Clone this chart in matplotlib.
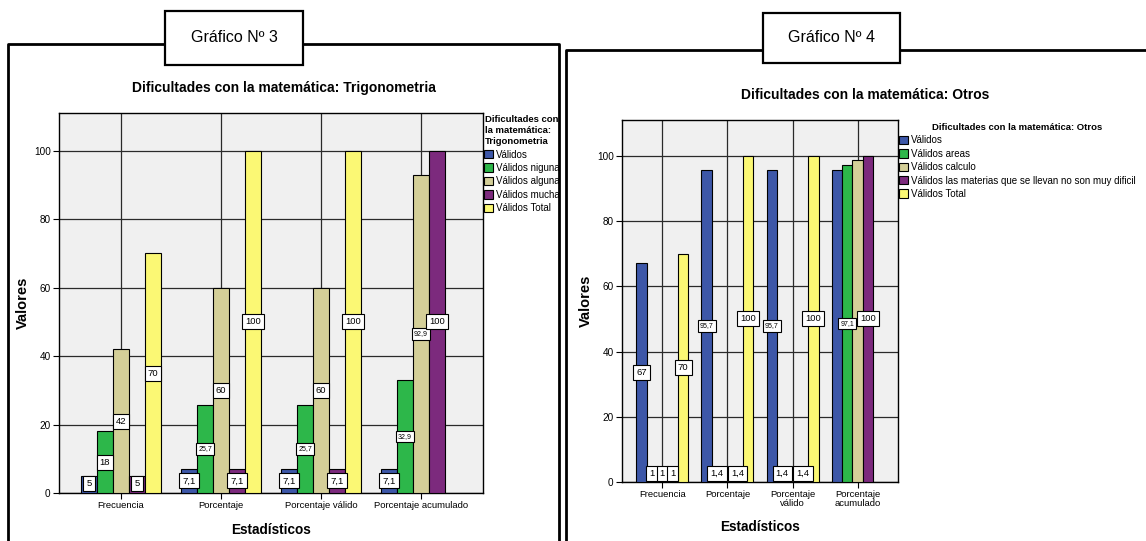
import numpy as np
import matplotlib
matplotlib.use("Agg")
import matplotlib.pyplot as plt
from matplotlib.patches import Rectangle
from matplotlib.lines import Line2D

# datos del grafico 3 (trigonometria)
estadisticos_3 = ['Frecuencia', 'Porcentaje', 'Porcentaje válido', 'Porcentaje acumulado']
series_3 = ['Válidos', 'Válidos niguna', 'Válidos alguna', 'Válidos mucha', 'Válidos Total']
validos_3 = [5, 7.1, 7.1, 7.1]
niguna_3 = [18, 25.7, 25.7, 32.9]
alguna_3 = [42, 60, 60, 92.9]
mucha_3 = [5, 7.1, 7.1, 100]
total_3 = [70, 100, 100, None]

# datos del grafico 4 (otros)
estadisticos_4 = ['Frecuencia', 'Porcentaje', 'Porcentaje\nválido', 'Porcentaje\nacumulado']
series_4 = ['Válidos', 'Válidos areas', 'Válidos calculo',
            'Válidos las materias que se llevan no son muy dificil', 'Válidos Total']
validos_4 = [67, 95.7, 95.7, 95.7]
areas_4 = [1, 1.4, 1.4, 97.1]
calculo_4 = [1, 1.4, 1.4, 98.6]
materias_4 = [1, 1.4, 1.4, 100]
total_4 = [70, 100, 100, None]
# etiquetas que SPSS no muestra por solaparse (serie, estadistico)
ocultas_4 = [(2, 1), (2, 2), (0, 3), (2, 3)]

colores = ['#3D57A8', '#2DB74A', '#D4CF98', '#7C2A7D', '#FBF874']
FUENTE = ['Liberation Sans', 'DejaVu Sans']

W, H = 1146, 541
fig = plt.figure(figsize=(W / 100, H / 100), dpi=100)
fig.patch.set_facecolor('white')


def rect(x0, y0, x1, y1):
    return [x0 / W, 1 - y1 / H, (x1 - x0) / W, (y1 - y0) / H]


def fy(y):
    return 1 - y / H


def fmt(v):
    return f"{v:g}".replace('.', ',')


def barras(ax, cats, nombres, valores, ocultas, pad_x, pad_y):
    x = np.arange(len(cats))
    ancho = 0.16
    for i, (serie, col) in enumerate(zip(valores, colores)):
        off = (i - 2) * ancho
        for j, v in enumerate(serie):
            if v is None:
                continue
            ax.bar(x[j] + off, v, ancho, color=col, edgecolor='black',
                   linewidth=0.8, zorder=3, label=nombres[i] if j == 0 else None)
            if (i, j) in ocultas:
                continue
            t = fmt(v)
            ax.text(x[j] + off, max(v / 2, 2.7), t, ha='center', va='center',
                    fontsize=5.0 if len(t) > 3 else 6.8, family=FUENTE, zorder=5,
                    bbox=dict(boxstyle='square,pad=0.32', fc='white', ec='black', lw=0.8))
    ax.set_xlim(-0.62, 3.62)
    ax.set_ylim(0, 111)
    ax.set_xticks(x)
    ax.set_xticklabels(cats, family=FUENTE, fontsize=6.8, linespacing=0.95)
    ax.set_yticks(range(0, 101, 20))
    ax.set_yticklabels([str(v) for v in range(0, 101, 20)], family=FUENTE, fontsize=7.2)
    ax.set_facecolor('#F0F0F0')
    ax.grid(True, color='#2a2a2a', linewidth=0.9, zorder=0)
    ax.set_axisbelow(True)
    ax.tick_params(length=4, width=0.8, pad=2)
    for s in ax.spines.values():
        s.set_linewidth(1.0)
    ax.set_ylabel('Valores', family=FUENTE, fontweight='bold', fontsize=10.5, labelpad=pad_y)
    ax.set_xlabel('Estadísticos', family=FUENTE, fontweight='bold', fontsize=9.8,
                  labelpad=pad_x)


def leyenda(ax, x, y, titulo, interlineado):
    leg = ax.legend(loc='upper left', bbox_to_anchor=(x / W, fy(y)),
                    bbox_transform=fig.transFigure, frameon=False, title=titulo,
                    prop={'family': FUENTE, 'size': 7.0},
                    handlelength=0.95, handleheight=0.95, handletextpad=0.25,
                    labelspacing=0.35, borderpad=0, borderaxespad=0)
    leg.get_title().set_fontproperties({'family': FUENTE, 'weight': 'bold', 'size': 6.8})
    leg.get_title().set_linespacing(interlineado)
    return leg


# grafico 3
ax3 = fig.add_axes(rect(59, 113, 483, 493))
barras(ax3, estadisticos_3, series_3,
       [validos_3, niguna_3, alguna_3, mucha_3, total_3], [], 9, 3)
leyenda(ax3, 484, 115, 'Dificultades con\nla matemática:\nTrigonometria', 1.3)

# grafico 4
ax4 = fig.add_axes(rect(622, 120, 898, 482))
barras(ax4, estadisticos_4, series_4,
       [validos_4, areas_4, calculo_4, materias_4, total_4], ocultas_4, 9, 3)
leyenda(ax4, 899, 123, 'Dificultades con la matemática: Otros', 1.0)

# titulos
fig.text(284 / W, fy(88), 'Dificultades con la matemática: Trigonometria',
         ha='center', va='center', family=FUENTE, fontweight='bold', fontsize=10)
fig.text(865 / W, fy(95), 'Dificultades con la matemática: Otros',
         ha='center', va='center', family=FUENTE, fontweight='bold', fontsize=10)

# marcos de cada panel
for xs, ys in [([8, 8, 559, 559], [541, 44, 44, 541]),
               ([566, 566, 1146], [541, 50, 50])]:
    fig.add_artist(Line2D([x / W for x in xs], [fy(y) for y in ys],
                          color='black', linewidth=2, transform=fig.transFigure))

for (x0, y0, x1, y1), t in [((165, 11, 303, 65), 'Gráfico Nº 3'),
                            ((763, 13, 900, 63), 'Gráfico Nº 4')]:
    fig.add_artist(Rectangle((x0 / W, fy(y1)), (x1 - x0) / W, (y1 - y0) / H,
                             facecolor='white', edgecolor='black', linewidth=1.6,
                             transform=fig.transFigure, zorder=4))
    fig.text((x0 + x1) / 2 / W, fy((y0 + y1) / 2), t, ha='center', va='center',
             family=FUENTE, fontsize=11.5, zorder=5)

fig.savefig('out.png', dpi=100)
